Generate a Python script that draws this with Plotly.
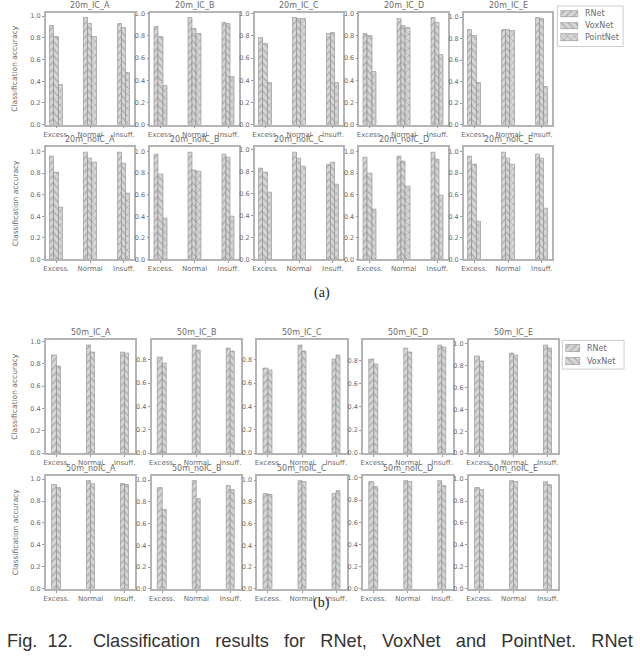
import plotly.graph_objects as go

W, H = 640, 658

categories = ["Excess.", "Normal", "Insuff."]
sites = ["A", "B", "C", "D", "E"]

# (a) 20 m, one list per site: Excess., Normal, Insuff.
rnet_20m_ic = [[0.91, 0.98, 0.93], [0.88, 0.96, 0.92], [0.78, 0.96, 0.82], [0.82, 0.95, 0.96], [0.88, 0.88, 0.99]]
voxnet_20m_ic = [[0.81, 0.93, 0.89], [0.79, 0.86, 0.91], [0.73, 0.95, 0.83], [0.80, 0.89, 0.92], [0.83, 0.88, 0.98]]
pointnet_20m_ic = [[0.37, 0.81, 0.48], [0.35, 0.82, 0.43], [0.38, 0.95, 0.38], [0.48, 0.87, 0.63], [0.39, 0.87, 0.35]]

rnet_20m_noic = [[0.96, 0.99, 0.99], [0.97, 0.99, 0.97], [0.83, 0.97, 0.86], [0.95, 0.96, 0.99], [0.96, 0.99, 0.97]]
voxnet_20m_noic = [[0.81, 0.94, 0.89], [0.79, 0.83, 0.95], [0.79, 0.92, 0.88], [0.80, 0.91, 0.93], [0.88, 0.94, 0.94]]
pointnet_20m_noic = [[0.48, 0.90, 0.61], [0.38, 0.82, 0.40], [0.61, 0.85, 0.68], [0.46, 0.68, 0.59], [0.35, 0.88, 0.47]]

# (b) 50 m
rnet_50m_ic = [[0.87, 0.96, 0.90], [0.82, 0.92, 0.90], [0.73, 0.92, 0.80], [0.81, 0.91, 0.93], [0.88, 0.91, 0.98]]
voxnet_50m_ic = [[0.78, 0.90, 0.89], [0.77, 0.88, 0.87], [0.71, 0.87, 0.84], [0.77, 0.87, 0.92], [0.84, 0.89, 0.96]]

rnet_50m_noic = [[0.95, 0.98, 0.96], [0.93, 0.99, 0.95], [0.87, 0.99, 0.87], [0.96, 0.97, 0.97], [0.92, 0.98, 0.97]]
voxnet_50m_noic = [[0.92, 0.96, 0.95], [0.73, 0.83, 0.91], [0.86, 0.98, 0.90], [0.92, 0.96, 0.93], [0.90, 0.97, 0.95]]

hatch = {"RNet": "/", "VoxNet": "\\", "PointNet": "x"}

# pixel boxes of each row of small plots
rows = [
    dict(prefix="20m_IC_", top=10, bottom=123, x0=43, step=105, width=89,
         series=[("RNet", rnet_20m_ic), ("VoxNet", voxnet_20m_ic), ("PointNet", pointnet_20m_ic)]),
    dict(prefix="20m_noIC_", top=146, bottom=259, x0=43, step=105, width=89,
         series=[("RNet", rnet_20m_noic), ("VoxNet", voxnet_20m_noic), ("PointNet", pointnet_20m_noic)]),
    dict(prefix="50m_IC_", top=341, bottom=455, x0=43, step=106.25, width=90,
         series=[("RNet", rnet_50m_ic), ("VoxNet", voxnet_50m_ic)]),
    dict(prefix="50m_noIC_", top=478, bottom=592, x0=43, step=106.25, width=90,
         series=[("RNet", rnet_50m_noic), ("VoxNet", voxnet_50m_noic)]),
]

# hand-drawn legend boxes (pixel positions), one per panel
legends = [
    dict(names=["RNet", "VoxNet", "PointNet"], box=(557, 3, 623, 44), first=11, gap=12, key_x=(560, 578)),
    dict(names=["RNet", "VoxNet"], box=(562, 341, 624, 370), first=349, gap=13, key_x=(565, 580)),
]

BAR_W = 0.125
grey = "#6a6a6a"


def bar_marker(name):
    return dict(color="#d6d6d6", line=dict(color="#8a8a8a", width=0.6),
                pattern=dict(shape=hatch[name], fgcolor="#7a7a7a", bgcolor="#d6d6d6",
                             size=5, solidity=0.25, fillmode="overlay"))


def note(text, xpx, ypx, size, xanchor="center", yanchor="middle", **kw):
    font = dict(family=kw.pop("family", "DejaVu Sans"), size=size, color=kw.pop("color", grey))
    return dict(text=text, x=xpx / W, y=1 - ypx / H, xref="paper", yref="paper",
                xanchor=xanchor, yanchor=yanchor, showarrow=False, font=font, **kw)


fig = go.Figure()
annotations = []
shapes = []
n = 0
for row in rows:
    k = len(row["series"])
    for c, site in enumerate(sites):
        n += 1
        sfx = "" if n == 1 else str(n)
        left = row["x0"] + c * row["step"]
        right = left + row["width"]
        ymax = max(max(vals[c]) for _, vals in row["series"]) * 1.05
        for j, (name, vals) in enumerate(row["series"]):
            fig.add_trace(go.Bar(
                x=categories, y=vals[c], name=name,
                xaxis="x" + sfx, yaxis="y" + sfx,
                width=BAR_W, offset=(j - k / 2) * BAR_W,
                marker=bar_marker(name), showlegend=False,
            ))
        axis_common = dict(showline=True, mirror=True, linecolor="#b4b4b4", linewidth=1.6,
                           ticks="outside", ticklen=2, tickcolor="#999",
                           showgrid=False, zeroline=False)
        fig.layout["xaxis" + sfx] = dict(axis_common, domain=[left / W, right / W], anchor="y" + sfx,
                                        range=[-0.31, 2.31], type="category",
                                        tickfont=dict(family="DejaVu Sans", size=7, color=grey))
        fig.layout["yaxis" + sfx] = dict(axis_common, domain=[1 - row["bottom"] / H, 1 - row["top"] / H],
                                        anchor="x" + sfx, range=[0, ymax],
                                        tickvals=[0, 0.2, 0.4, 0.6, 0.8, 1.0], tickformat=".1f",
                                        tickfont=dict(family="DejaVu Sans", size=6.5, color=grey))
        annotations.append(note(row["prefix"] + site, (left + right) / 2, row["top"] - 1, 8, yanchor="bottom"))
    annotations.append(note("Classification accuracy", 12, (row["top"] + row["bottom"]) / 2, 7.5, textangle=-90))

# legends: a frame, a patterned key bar for each series and its name
for lg in legends:
    n += 1
    sfx = str(n)
    x0, y0, x1, y1 = lg["box"]
    shapes.append(dict(type="rect", xref="paper", yref="paper", x0=x0 / W, x1=x1 / W,
                       y0=1 - y1 / H, y1=1 - y0 / H, line=dict(color="#cccccc", width=1),
                       fillcolor="white", layer="below"))
    m = len(lg["names"])
    top = lg["first"] - lg["gap"] / 2
    bot = top + m * lg["gap"]
    for name in lg["names"]:
        fig.add_trace(go.Bar(x=[1], y=[name], orientation="h", width=0.55,
                             xaxis="x" + sfx, yaxis="y" + sfx,
                             marker=bar_marker(name), showlegend=False, hoverinfo="skip"))
    for i, name in enumerate(lg["names"]):
        annotations.append(note(name, lg["key_x"][1] + 5, lg["first"] + i * lg["gap"], 8, xanchor="left"))
    hidden = dict(visible=False, showgrid=False, zeroline=False, fixedrange=True)
    fig.layout["xaxis" + sfx] = dict(hidden, domain=[lg["key_x"][0] / W, lg["key_x"][1] / W],
                                    anchor="y" + sfx, range=[0, 1])
    fig.layout["yaxis" + sfx] = dict(hidden, domain=[1 - bot / H, 1 - top / H], anchor="x" + sfx,
                                    type="category", categoryorder="array",
                                    categoryarray=lg["names"][::-1], range=[-0.5, m - 0.5])

for label, ypx in [("(a)", 293), ("(b)", 606)]:
    annotations.append(note(label, W / 2, ypx, 14, family="Liberation Serif", color="#222"))

sp3 = "\u00a0" * 3
caption = ("Fig.\u00a0\u00a012.\u00a0\u00a0\u00a0\u00a0Classification" + sp3 + "results" + sp3 + "for" + sp3
           + "RNet," + sp3 + "VoxNet" + sp3 + "and" + sp3 + "PointNet." + sp3 + "RNet")
annotations.append(note(caption, 2, 645, 18.2, xanchor="left", family="Liberation Sans", color="#333"))

fig.update_layout(
    width=W, height=H, autosize=False,
    margin=dict(l=0, r=0, t=0, b=0),
    paper_bgcolor="white", plot_bgcolor="white",
    barmode="overlay", bargap=0, showlegend=False,
    annotations=annotations, shapes=shapes,
)

# pin the plot to the page corner so the default body margin adds no offset
pin = ("document.documentElement.style.overflow = 'hidden';"
       "document.body.style.margin = '0';"
       "document.body.style.overflow = 'hidden';"
       "var gd = document.getElementById('{plot_id}');"
       "gd.style.position = 'absolute'; gd.style.left = '0px'; gd.style.top = '0px';")
fig.write_html("out.html", config={"displayModeBar": False}, post_script=pin)
